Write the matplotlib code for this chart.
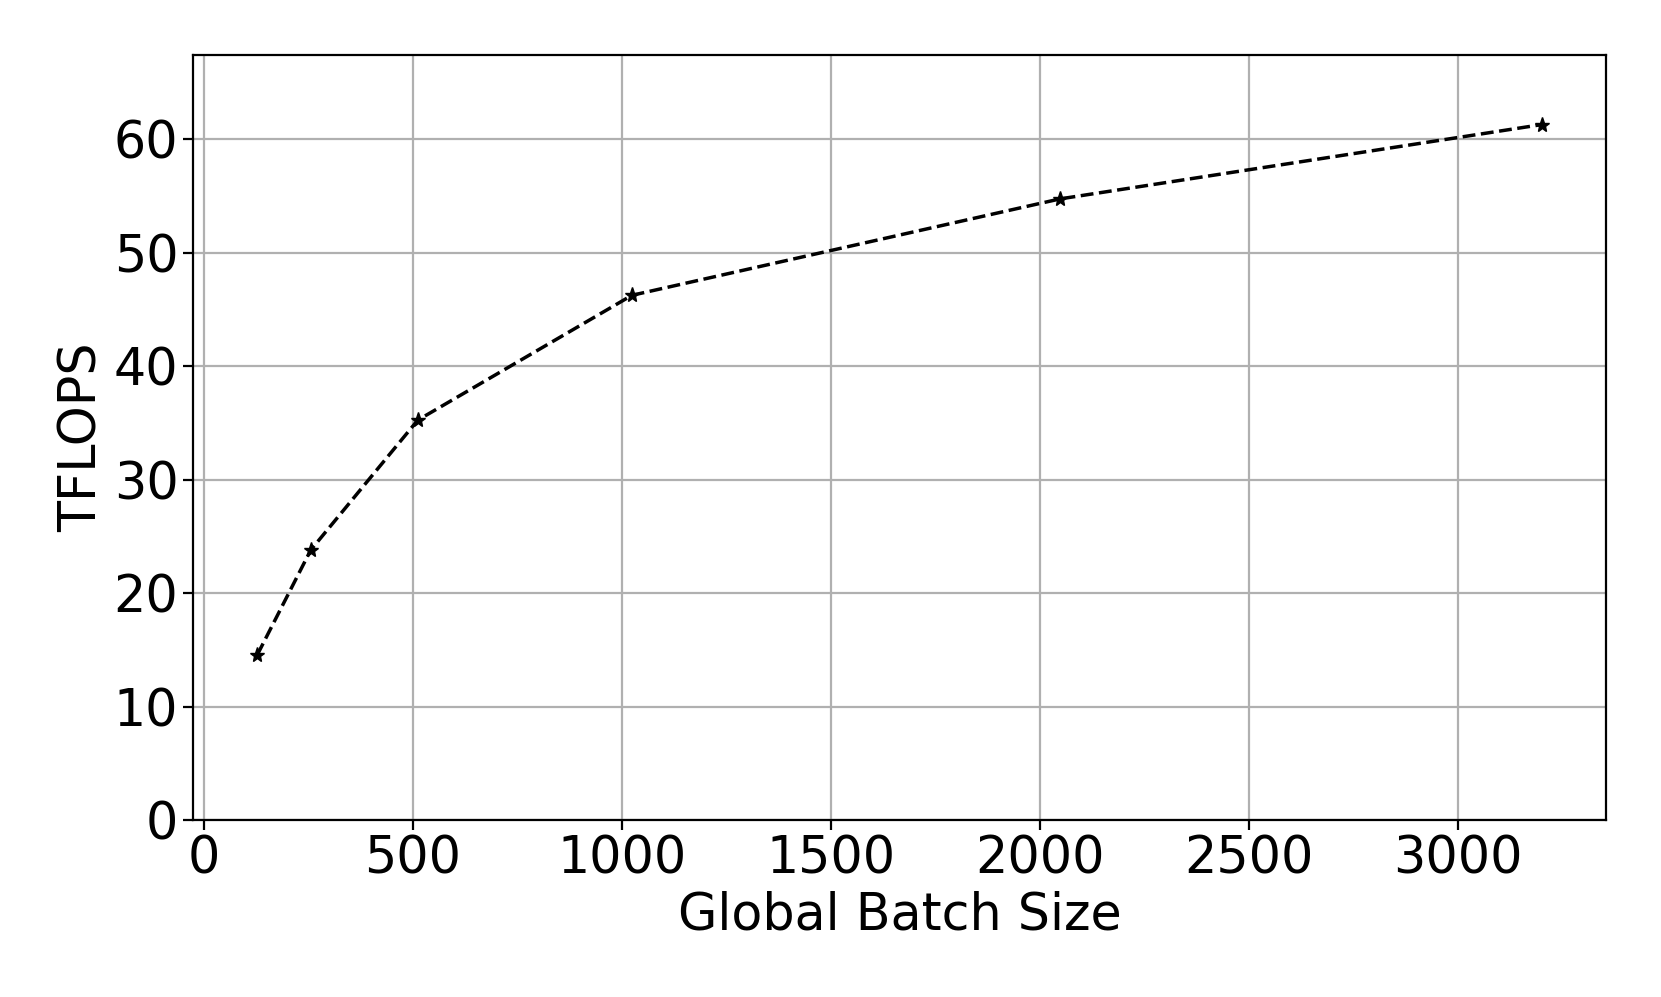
import matplotlib
matplotlib.use("Agg")
import matplotlib.pyplot as plt

batch_sizes = [128, 256, 512, 1024, 2048, 3200]
tflops = [14.55, 23.8, 35.25, 46.25, 54.75, 61.3]

fig = plt.figure(figsize=(16.61, 9.97), dpi=100)
ax = fig.add_axes([0.1162, 0.1775, 0.8507, 0.7673])
ax.plot(batch_sizes, tflops, linestyle='--', color='black', marker='*',
        markersize=11, linewidth=2.5)
ax.set_ylim(0, max(tflops) * 1.1)
ax.grid(True, color='#b0b0b0', linewidth=1.6)
ax.set_axisbelow(True)
ax.tick_params(labelsize=36.5, width=1.6, length=7)
for s in ax.spines.values():
    s.set_linewidth(1.6)
ax.set_xlabel('Global Batch Size', fontsize=36.5)
ax.set_ylabel('TFLOPS', fontsize=36.5)
fig.savefig('out.png', dpi=100)
